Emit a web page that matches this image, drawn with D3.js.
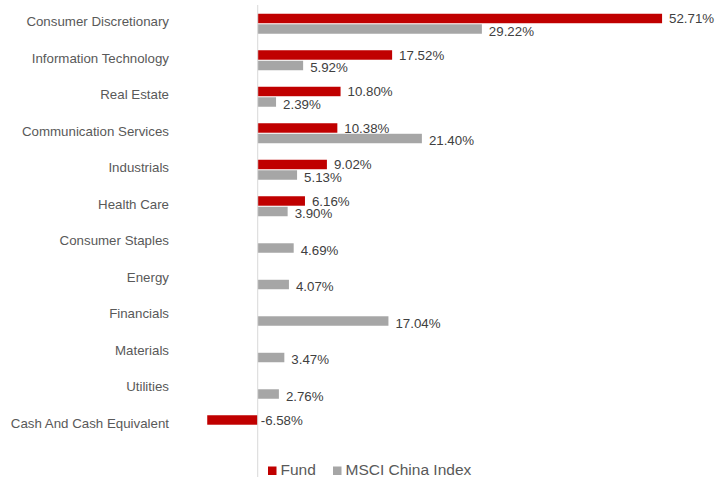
<!DOCTYPE html>
<html>
<head>
<meta charset="utf-8">
<script src="https://cdn.jsdelivr.net/npm/d3@7"></script>
<style>
  body { margin: 0; background: #fff; }
  text { font-family: "Liberation Sans", Arial, sans-serif; }
</style>
</head>
<body>
<svg id="chart"></svg>
<script>
// sector weights, fund vs benchmark (null = no holding)
const sectors = [
    "Consumer Discretionary", "Information Technology", "Real Estate",
    "Communication Services", "Industrials", "Health Care", "Consumer Staples",
    "Energy", "Financials", "Materials", "Utilities", "Cash And Cash Equivalent"
];
const fundWeights = [52.71, 17.52, 10.80, 10.38, 9.02, 6.16, null, null, null, null, null, -6.58];
const indexWeights = [29.22, 5.92, 2.39, 21.40, 5.13, 3.90, 4.69, 4.07, 17.04, 3.47, 2.76, null];
const seriesNames = ["Fund", "MSCI China Index"];
const seriesColours = ["#C00000", "#A6A6A6"];

const width = 718, height = 477;

const svg = d3.select("#chart")
    .attr("width", width)
    .attr("height", height);

const x = d3.scaleLinear()
    .domain([-10, 60])
    .range([181, 718]);

const y = d3.scaleBand()
    .domain(sectors)
    .range([5.5, 443.5]);

// two bars per sector
const ySub = d3.scaleBand()
    .domain([0, 1])
    .range([-10, 10])
    .paddingInner(0.1);

const rows = sectors.map((s, i) => ({
    sector: s,
    values: [fundWeights[i], indexWeights[i]]
}));

// category labels
svg.append("g")
    .selectAll("text")
    .data(sectors)
    .join("text")
        .attr("x", 169)
        .attr("y", d => y(d) + y.bandwidth() / 2 - 2)
        .attr("dy", "0.35em")
        .attr("text-anchor", "end")
        .attr("font-size", 13.3)
        .attr("fill", "#595959")
        .text(d => d);

const groups = svg.append("g")
    .selectAll("g")
    .data(rows)
    .join("g")
        .attr("transform", d => `translate(0,${y(d.sector) + y.bandwidth() / 2})`);

const marks = groups.selectAll("g")
    .data(d => d.values.map((v, k) => ({k, v})).filter(e => e.v !== null))
    .join("g");

marks.append("rect")
    .attr("x", d => x(Math.min(0, d.v)))
    .attr("y", d => ySub(d.k))
    .attr("width", d => Math.abs(x(d.v) - x(0)))
    .attr("height", ySub.bandwidth())
    .attr("fill", d => seriesColours[d.k]);

marks.append("text")
    .attr("x", d => d.v >= 0 ? x(d.v) + 7 : x(0) + 3)
    .attr("y", d => ySub(d.k) + ySub.bandwidth() / 2 + (d.k === 1 ? 2 : 0))
    .attr("dy", "0.35em")
    .attr("font-size", 13.3)
    .attr("fill", "#404040")
    .text(d => d.v.toFixed(2) + "%");

// zero line
svg.append("line")
    .attr("x1", x(0)).attr("x2", x(0))
    .attr("y1", 5).attr("y2", height)
    .attr("stroke", "#d9d9d9")
    .attr("stroke-width", 1);

// legend
const legendX = [268, 333];
const legend = svg.append("g")
    .selectAll("g")
    .data(seriesNames)
    .join("g")
        .attr("transform", (d, i) => `translate(${legendX[i]},466.5)`);

legend.append("rect")
    .attr("width", 8.5)
    .attr("height", 8.5)
    .attr("fill", (d, i) => seriesColours[i]);

legend.append("text")
    .attr("x", 12.5)
    .attr("y", 3)
    .attr("dy", "0.35em")
    .attr("font-size", 15.5)
    .attr("fill", "#595959")
    .text(d => d);
</script>
</body>
</html>
